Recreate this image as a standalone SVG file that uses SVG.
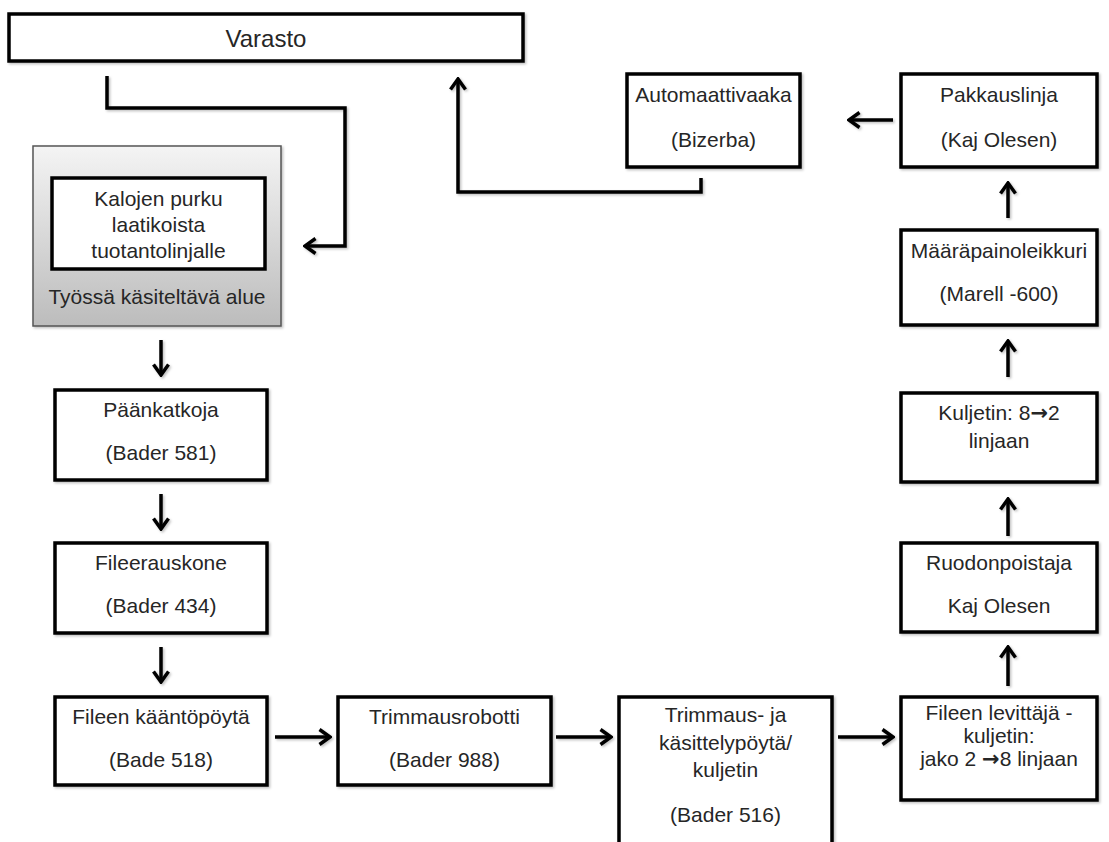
<svg xmlns="http://www.w3.org/2000/svg" width="1109" height="842" viewBox="0 0 1109 842">
<defs>
<style>
.box{fill:#fff;stroke:#000;stroke-width:3.5}
.t{font-family:"Liberation Sans",Arial,sans-serif;font-size:21px;fill:#262626;text-anchor:middle}
.ar{font-family:"DejaVu Sans",sans-serif;font-weight:bold}
.c{fill:none;stroke:#000;stroke-width:3.5;stroke-linejoin:miter}
</style>
<linearGradient id="gr" x1="0" y1="0" x2="0" y2="1">
<stop offset="0" stop-color="#f4f4f4"/>
<stop offset="1" stop-color="#bcbcbc"/>
</linearGradient>
<filter id="sh" x="-10%" y="-10%" width="130%" height="130%">
<feDropShadow dx="1.5" dy="1.5" stdDeviation="1.2" flood-color="#000" flood-opacity="0.25"/>
</filter>
<marker id="ah" viewBox="0 0 14 18" refX="12" refY="9" markerWidth="14" markerHeight="18" markerUnits="userSpaceOnUse" orient="auto">
<path d="M1.5,1.5 L12,9 L1.5,16.5" fill="none" stroke="#000" stroke-width="3.5"/>
</marker>
</defs>

<g id="connectors" filter="url(#sh)">
<path class="c" d="M107,76 V108 H345 V246 H305" marker-end="url(#ah)"/>
<path class="c" d="M701,178 V192 H458 V79" marker-end="url(#ah)"/>
<path class="c" d="M893,120 H849" marker-end="url(#ah)"/>
<path class="c" d="M1008,218 V183" marker-end="url(#ah)"/>
<path class="c" d="M1008,377 V341" marker-end="url(#ah)"/>
<path class="c" d="M1008,536 V499" marker-end="url(#ah)"/>
<path class="c" d="M1008,686 V647" marker-end="url(#ah)"/>
<path class="c" d="M161,340 V375" marker-end="url(#ah)"/>
<path class="c" d="M161,494 V529" marker-end="url(#ah)"/>
<path class="c" d="M161,647 V682" marker-end="url(#ah)"/>
<path class="c" d="M275,737 H330" marker-end="url(#ah)"/>
<path class="c" d="M556,737 H611" marker-end="url(#ah)"/>
<path class="c" d="M838,737 H893" marker-end="url(#ah)"/>
</g>

<g id="varasto">
<rect class="box" x="9" y="14" width="514" height="47" filter="url(#sh)"/>
<text class="t" x="266" y="47" style="font-size:24px">Varasto</text>
</g>

<g id="tyoalue">
<rect x="33" y="146" width="248" height="180" fill="url(#gr)" stroke="#555" stroke-width="1.5" filter="url(#sh)"/>
<text class="t" x="157" y="304">Työssä käsiteltävä alue</text>
</g>

<g id="kalojen-purku">
<rect class="box" x="52" y="178" width="213" height="91"/>
<text class="t" x="158.5" y="206">Kalojen purku</text>
<text class="t" x="158.5" y="232">laatikoista</text>
<text class="t" x="158.5" y="258">tuotantolinjalle</text>
</g>

<g id="automaattivaaka">
<rect class="box" x="627" y="74" width="173" height="93" filter="url(#sh)"/>
<text class="t" x="713.5" y="102">Automaattivaaka</text>
<text class="t" x="713.5" y="147">(Bizerba)</text>
</g>

<g id="pakkauslinja">
<rect class="box" x="901" y="74" width="196" height="93" filter="url(#sh)"/>
<text class="t" x="999" y="102">Pakkauslinja</text>
<text class="t" x="999" y="147">(Kaj Olesen)</text>
</g>

<g id="maarapainoleikkuri">
<rect class="box" x="901" y="230" width="196" height="95" filter="url(#sh)"/>
<text class="t" x="999" y="258">Määräpainoleikkuri</text>
<text class="t" x="999" y="301">(Marell -600)</text>
</g>

<g id="kuljetin">
<rect class="box" x="901" y="393" width="196" height="89" filter="url(#sh)"/>
<text class="t" x="999" y="420">Kuljetin: 8<tspan class="ar">→</tspan>2</text>
<text class="t" x="999" y="448">linjaan</text>
</g>

<g id="ruodonpoistaja">
<rect class="box" x="901" y="543" width="196" height="89" filter="url(#sh)"/>
<text class="t" x="999" y="570">Ruodonpoistaja</text>
<text class="t" x="999" y="613">Kaj Olesen</text>
</g>

<g id="fileen-levittaja">
<rect class="box" x="901" y="697" width="196" height="103" filter="url(#sh)"/>
<text class="t" x="999" y="720">Fileen levittäjä -</text>
<text class="t" x="999" y="743">kuljetin:</text>
<text class="t" x="999" y="766">jako 2 <tspan class="ar">→</tspan>8 linjaan</text>
</g>

<g id="paankatkoja">
<rect class="box" x="55" y="390" width="212" height="90" filter="url(#sh)"/>
<text class="t" x="161" y="417">Päänkatkoja</text>
<text class="t" x="161" y="460">(Bader 581)</text>
</g>

<g id="fileerauskone">
<rect class="box" x="55" y="543" width="212" height="90" filter="url(#sh)"/>
<text class="t" x="161" y="570">Fileerauskone</text>
<text class="t" x="161" y="613">(Bader 434)</text>
</g>

<g id="fileen-kaantopoyta">
<rect class="box" x="55" y="697" width="212" height="88" filter="url(#sh)"/>
<text class="t" x="161" y="724">Fileen kääntöpöytä</text>
<text class="t" x="161" y="767">(Bade 518)</text>
</g>

<g id="trimmausrobotti">
<rect class="box" x="338" y="697" width="213" height="88" filter="url(#sh)"/>
<text class="t" x="444.5" y="724">Trimmausrobotti</text>
<text class="t" x="444.5" y="767">(Bader 988)</text>
</g>

<g id="trimmaus-kasittelypoyta">
<rect class="box" x="619" y="697" width="213" height="160" filter="url(#sh)"/>
<text class="t" x="725.5" y="722">Trimmaus- ja</text>
<text class="t" x="725.5" y="750">käsittelypöytä/</text>
<text class="t" x="725.5" y="777">kuljetin</text>
<text class="t" x="725.5" y="822">(Bader 516)</text>
</g>
</svg>
